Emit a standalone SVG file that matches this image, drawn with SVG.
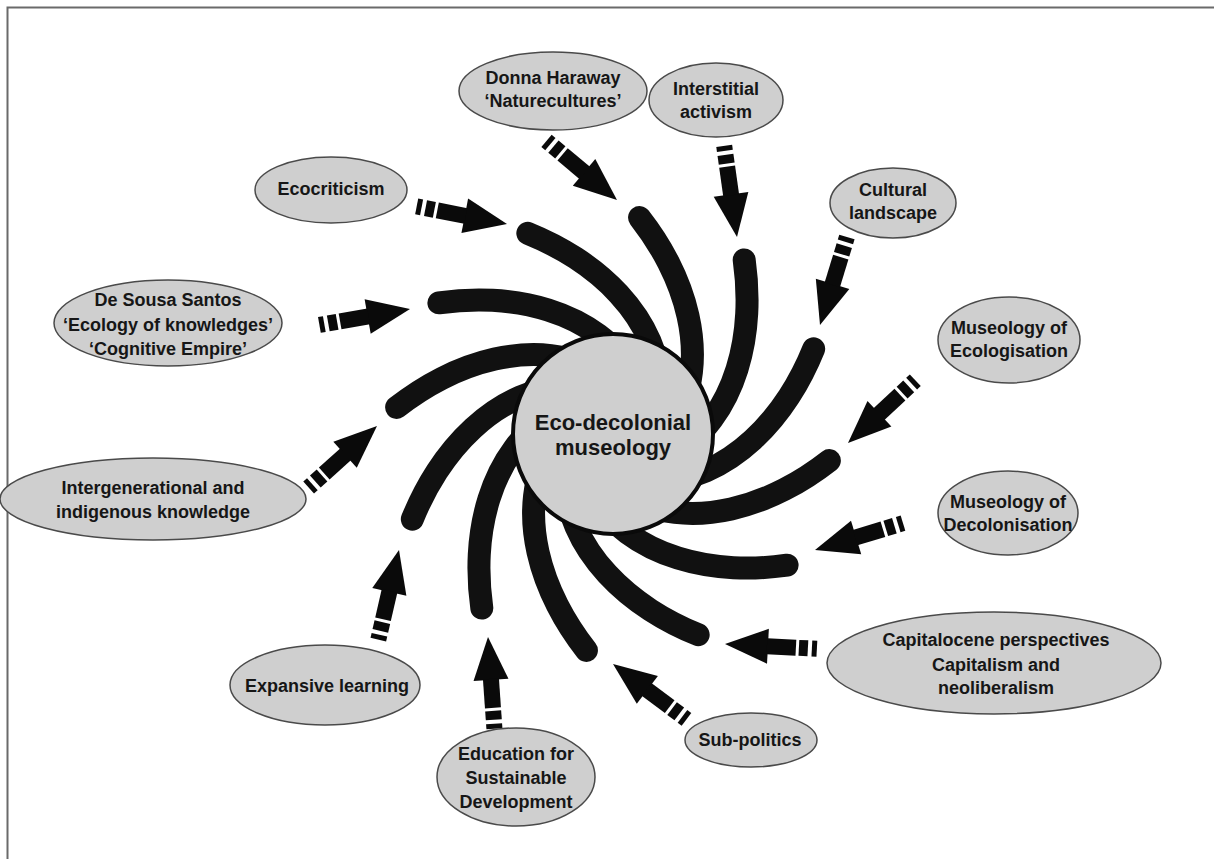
<svg xmlns="http://www.w3.org/2000/svg" xmlns:xlink="http://www.w3.org/1999/xlink" width="1214" height="859" viewBox="0 0 1214 859">
  <style>
    .node ellipse { fill: #cfcfcf; stroke: #4a4a4a; stroke-width: 1.5; }
    .label { font-family: "Liberation Sans", Arial, Helvetica, sans-serif; font-weight: bold; font-size: 18px; fill: #161616; text-anchor: middle; }
    .hub-label { font-size: 22px; }
    .arm { fill: none; stroke: #111; stroke-width: 23; stroke-linecap: round; stroke-linejoin: round; }
    .arrow { fill: #0a0a0a; }
  </style>
  <defs>
    <!-- one arm of the spiral (logarithmic curve), outer end on the +x axis, centre at the origin -->
    <path id="arm" d="M218,0 C205.33,12.67 191.56,24.25 176.71,34.27 C161.08,44.82 144.25,53.66 126.49,59.99 C108.73,66.32 89.99,70.18 71.13,70.29 C52.27,70.4 33.13,66.77 16.62,57.65"/>
    <!-- block arrow with a dashed tail, tip at the origin pointing along +x -->
    <g id="arrow">
      <polygon points="0,0 -43,-17.5 -43,17.5"/>
      <rect x="-71" y="-8" width="29" height="16"/>
      <rect x="-83" y="-8" width="9" height="16"/>
      <rect x="-92" y="-8" width="5" height="16"/>
    </g>
  </defs>

  <rect width="1214" height="859" fill="#ffffff"/>
  <path d="M7.5,859 V7.5 H1214" fill="none" stroke="#6a6a6a" stroke-width="2"/>

  <!-- twelve spiral arms around the hub, 30 degrees apart -->
  <g id="spiral" class="arm">
    <use xlink:href="#arm" transform="translate(613,434) rotate(217)"/>
    <use xlink:href="#arm" transform="translate(613,434) rotate(247)"/>
    <use xlink:href="#arm" transform="translate(613,434) rotate(277)"/>
    <use xlink:href="#arm" transform="translate(613,434) rotate(307)"/>
    <use xlink:href="#arm" transform="translate(613,434) rotate(337)"/>
    <use xlink:href="#arm" transform="translate(613,434) rotate(7)"/>
    <use xlink:href="#arm" transform="translate(613,434) rotate(37)"/>
    <use xlink:href="#arm" transform="translate(613,434) rotate(67)"/>
    <use xlink:href="#arm" transform="translate(613,434) rotate(97)"/>
    <use xlink:href="#arm" transform="translate(613,434) rotate(127)"/>
    <use xlink:href="#arm" transform="translate(613,434) rotate(157)"/>
    <use xlink:href="#arm" transform="translate(613,434) rotate(187)"/>
  </g>

  <!-- hub -->
  <g id="hub">
    <circle cx="613" cy="434" r="100" fill="#cfcfcf" stroke="#0a0a0a" stroke-width="4"/>
    <text class="label hub-label" x="613" y="430">Eco-decolonial</text>
    <text class="label hub-label" x="613" y="455">museology</text>
  </g>

  <!-- connectors: block arrows pointing at the arm ends -->
  <g id="connectors" class="arrow">
    <use xlink:href="#arrow" transform="translate(617,200) rotate(40)"/>
    <use xlink:href="#arrow" transform="translate(737,237) rotate(82)"/>
    <use xlink:href="#arrow" transform="translate(820,325) rotate(107)"/>
    <use xlink:href="#arrow" transform="translate(848,443) rotate(137)"/>
    <use xlink:href="#arrow" transform="translate(815,550) rotate(163)"/>
    <use xlink:href="#arrow" transform="translate(725,644) rotate(183)"/>
    <use xlink:href="#arrow" transform="translate(613,664) rotate(217)"/>
    <use xlink:href="#arrow" transform="translate(488,637) rotate(266)"/>
    <use xlink:href="#arrow" transform="translate(399,550) rotate(283)"/>
    <use xlink:href="#arrow" transform="translate(377,426) rotate(318)"/>
    <use xlink:href="#arrow" transform="translate(410,309) rotate(350)"/>
    <use xlink:href="#arrow" transform="translate(507,224) rotate(11)"/>
  </g>

  <!-- concept nodes -->
  <g id="node-haraway" class="node">
    <ellipse cx="553" cy="91" rx="94" ry="39"/>
    <text class="label" x="553" y="84">Donna Haraway</text>
    <text class="label" x="553" y="107">‘Naturecultures’</text>
  </g>
  <g id="node-interstitial" class="node">
    <ellipse cx="716" cy="100" rx="67" ry="37"/>
    <text class="label" x="716" y="95">Interstitial</text>
    <text class="label" x="716" y="118">activism</text>
  </g>
  <g id="node-cultural" class="node">
    <ellipse cx="893" cy="203" rx="63" ry="35"/>
    <text class="label" x="893" y="196">Cultural</text>
    <text class="label" x="893" y="219">landscape</text>
  </g>
  <g id="node-ecologisation" class="node">
    <ellipse cx="1009" cy="340" rx="71" ry="43"/>
    <text class="label" x="1009" y="334">Museology of</text>
    <text class="label" x="1009" y="357">Ecologisation</text>
  </g>
  <g id="node-decolonisation" class="node">
    <ellipse cx="1008" cy="513" rx="70" ry="42"/>
    <text class="label" x="1008" y="508">Museology of</text>
    <text class="label" x="1008" y="531">Decolonisation</text>
  </g>
  <g id="node-capitalocene" class="node">
    <ellipse cx="994" cy="663" rx="167" ry="51"/>
    <text class="label" x="996" y="646">Capitalocene perspectives</text>
    <text class="label" x="996" y="671">Capitalism and</text>
    <text class="label" x="996" y="694">neoliberalism</text>
  </g>
  <g id="node-subpolitics" class="node">
    <ellipse cx="751" cy="740" rx="66" ry="27"/>
    <text class="label" x="750" y="746">Sub-politics</text>
  </g>
  <g id="node-esd" class="node">
    <ellipse cx="516" cy="777" rx="79" ry="49"/>
    <text class="label" x="516" y="760">Education for</text>
    <text class="label" x="516" y="784">Sustainable</text>
    <text class="label" x="516" y="808">Development</text>
  </g>
  <g id="node-expansive" class="node">
    <ellipse cx="325" cy="685" rx="95" ry="40"/>
    <text class="label" x="327" y="692">Expansive learning</text>
  </g>
  <g id="node-intergenerational" class="node">
    <ellipse cx="153" cy="499" rx="153" ry="41"/>
    <text class="label" x="153" y="494">Intergenerational and</text>
    <text class="label" x="153" y="518">indigenous knowledge</text>
  </g>
  <g id="node-santos" class="node">
    <ellipse cx="168" cy="323" rx="114" ry="43"/>
    <text class="label" x="168" y="306">De Sousa Santos</text>
    <text class="label" x="168" y="331">‘Ecology of knowledges’</text>
    <text class="label" x="168" y="355">‘Cognitive Empire’</text>
  </g>
  <g id="node-ecocriticism" class="node">
    <ellipse cx="331" cy="190" rx="76" ry="33"/>
    <text class="label" x="331" y="195">Ecocriticism</text>
  </g>
</svg>
